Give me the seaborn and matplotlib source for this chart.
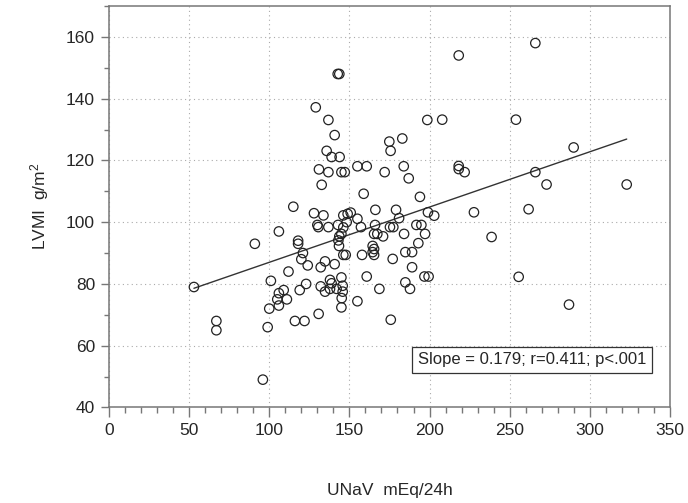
import numpy as np
import pandas as pd
import matplotlib
matplotlib.use("Agg")
import matplotlib.pyplot as plt
from matplotlib.ticker import MultipleLocator
import seaborn as sns

# ---- data ----
unav = [
    53, 67, 67, 91, 96, 99, 100, 101, 106, 106, 105, 106, 109, 111, 112, 115, 116,
    118, 118, 121, 120, 124, 119, 123, 122,
    129, 136.9, 140.8, 135.8, 138.9, 143.9, 131, 136.9, 145, 147.1, 132.7, 155,
    160.8, 172, 174.9, 183, 175.7, 183.9, 187, 198.6, 158.9, 194, 142.7, 143.7, 207.9,
    127.9, 133.8, 146.2, 148.9, 150.8, 155, 166.2, 179.1, 181,
    130, 130.6, 136.9, 142.9, 148.3, 146.2, 157.2, 166, 165.4, 167.4, 171, 175.3,
    177.4, 184.1, 191.8, 194.9, 197.2,
    145, 143.7, 143.1, 143.5, 193,
    164.5, 165.4, 164.5, 165.4, 146.2, 147.7, 157.9, 184.9, 189.1, 177,
    132.1, 134.8, 140.8, 189.1, 196.8, 199.4, 160.8,
    132.1, 134.8, 137.9, 138.9, 137.9, 142, 145, 145.8, 145.8, 145.2, 145, 184.9,
    187.8, 168.7, 155,
    130.8, 175.8, 199, 202.9,
    218.2, 266, 253.9, 289.9, 218.2, 218.2, 221.9, 266, 273, 323, 227.7, 261.8,
    238.7, 255.6, 287,
]
lvmi = [
    79, 68, 65, 93, 49, 66, 72, 81, 97, 77, 75, 73, 78, 75, 84, 105, 68,
    94, 93, 90, 88, 86, 78, 80, 68,
    137.2, 133.1, 128.2, 123.1, 121.1, 121.1, 117.1, 116.2, 116.2, 116.2, 112.1, 118.1,
    118.1, 116.2, 126.1, 127.1, 123.1, 118.1, 114.2, 133.1, 109.2, 108.2, 148, 148, 133.2,
    102.9, 102.2, 102.2, 102.7, 103.1, 101.1, 104, 104, 101.3,
    99.1, 98.4, 98.4, 99.1, 100, 98.3, 98.4, 99.1, 96.2, 96.2, 95.4, 98.4,
    98.4, 96.2, 99.1, 99.1, 96.2,
    96.2, 95.4, 94.1, 92.3, 93.2,
    92.3, 91.3, 90.3, 89.4, 89.4, 89.4, 89.4, 90.3, 90.3, 88.1,
    85.4, 87.3, 86.4, 85.4, 82.4, 82.4, 82.4,
    79.2, 77.5, 81.3, 80.2, 78.4, 78.4, 82.1, 79.4, 77.5, 75.4, 72.4, 80.5,
    78.4, 78.4, 74.4,
    70.3, 68.4, 103.2, 102.1,
    154, 158, 133.2, 124.2, 118.2, 117.2, 116.2, 116.2, 112.2, 112.2, 103.2, 104.2,
    95.2, 82.3, 73.3,
]
slope = 0.179
intercept = 69.1
stats_text = "Slope = 0.179; r=0.411; p<.001"
x_label = "UNaV  mEq/24h"
y_label = "LVMI  g/m$^2$"
x_ticks = [0, 50, 100, 150, 200, 250, 300, 350]
y_ticks = [40, 60, 80, 100, 120, 140, 160]

df = pd.DataFrame({"UNaV": unav, "LVMI": lvmi})
x_fit = [min(unav), max(unav)]
fit = pd.DataFrame({"x": x_fit, "y": [intercept + slope * v for v in x_fit]})

# ---- styling ----
sns.set_style("white")
plt.rcParams["font.family"] = ["Liberation Sans", "DejaVu Sans"]
plt.rcParams["mathtext.fontset"] = "custom"
plt.rcParams["mathtext.rm"] = "Liberation Sans"
plt.rcParams["mathtext.it"] = "Liberation Sans"

fig = plt.figure(figsize=(6.88, 5.03), dpi=100)
ax = fig.add_axes([0.1584, 0.19, 0.8154, 0.798])

sns.lineplot(data=fit, x="x", y="y", ax=ax, color="#333333", linewidth=1.0, zorder=2)
sns.scatterplot(data=df, x="UNaV", y="LVMI", ax=ax, marker="o", s=46,
                facecolors="none", edgecolor="#222222", linewidth=0.9, zorder=3)

ax.set_xlim(0, 350)
ax.set_ylim(40, 170)
ax.set_xticks(x_ticks)
ax.set_yticks(y_ticks)
ax.xaxis.set_minor_locator(MultipleLocator(10))
ax.yaxis.set_minor_locator(MultipleLocator(10))

ax.grid(True, which="major", linestyle=(0, (1, 3)), color="#aaaaaa", linewidth=0.8)
ax.set_axisbelow(True)

for side in ["left", "right", "top", "bottom"]:
    ax.spines[side].set_visible(True)
    ax.spines[side].set_color("#777777")
    ax.spines[side].set_linewidth(1.1)

ax.tick_params(axis="x", which="major", direction="out", length=7.5, width=1,
               color="#777777", labelsize=12.5, pad=4, bottom=True)
ax.tick_params(axis="x", which="minor", direction="out", length=4.5, width=1,
               color="#777777", bottom=True)
ax.tick_params(axis="y", which="major", direction="out", length=6, width=1,
               color="#777777", labelsize=12.5, pad=4, left=True)
ax.tick_params(axis="y", which="minor", direction="out", length=3.5, width=1,
               color="#777777", left=True)

ax.set_xlabel(x_label, fontsize=12.5, labelpad=32)
ax.set_ylabel(y_label, fontsize=12.5, labelpad=11)

ax.text(263.9, 55.4, stats_text, fontsize=12, ha="center", va="center",
        bbox=dict(boxstyle="square,pad=0.35", facecolor="white",
                  edgecolor="#333333", linewidth=0.9), zorder=4)

fig.savefig("out.png", dpi=100)
